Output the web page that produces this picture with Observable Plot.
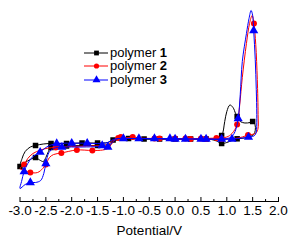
<!DOCTYPE html>
<html><head><meta charset="utf-8">
<script src="https://cdn.jsdelivr.net/npm/d3@7"></script>
<script src="https://cdn.jsdelivr.net/npm/@observablehq/plot@0.6"></script>
<style>
body{margin:0;background:#fff;}
#chart{position:relative;width:293px;height:240px;font-family:"Liberation Sans",Arial,sans-serif;}
#legend{position:absolute;left:84px;top:45.5px;font-size:13px;line-height:13.5px;color:#000;}
.row{display:flex;align-items:center;height:13.5px;white-space:nowrap}
.row svg{margin-right:2px;display:block}
</style></head><body><div id="chart"></div>
<script>
// Potential (V), current (arbitrary units), marker flag
const series = ["polymer 1", "polymer 2", "polymer 3"];
const seriesNumbers = ["1", "2", "3"];
const xTickLabels = [-3.0, -2.5, -2.0, -1.5, -1.0, -0.5, 0.0, 0.5, 1.0, 1.5, 2.0];
const xMinorTicks = [-2.75, -2.25, -1.75, -1.25, -0.75, -0.25, 0.25, 0.75, 1.25, 1.75];

const polymer1 = [
[0.0,0.5,1],[0.3,0.5,1],[0.6,0.5,1],[0.8,1],[0.9,4,1],[0.96,18],[1.0,28],[1.06,34.5],[1.12,32],[1.17,26],[1.2,23,1],[1.26,18],[1.35,16.5],[1.45,17],[1.5,18,1],[1.545,15],
[1.55,9],[1.52,5],[1.45,3],[1.35,1.5],[1.2,0.7,1],[1.1,-1],[1.0,-3],[0.9,-4,1],[0.8,-1.5],[0.7,0],[0.5,0.3],[0.3,0.3],[0.0,0.3],[-0.3,0.5],[-0.6,0.5],[-0.9,0.8],[-1.05,0.5],[-1.15,-1],[-1.2,-2.5],[-1.25,-4.5],[-1.35,-5.5],[-1.5,-6,1],[-1.8,-6],[-2.1,-6.5,1],[-2.3,-7],[-2.4,-8,1],[-2.45,-12],[-2.5,-18],[-2.55,-22],[-2.62,-20.5],[-2.7,-18,1],[-2.8,-20],[-2.9,-23],[-3.0,-27,1],
[-2.96,-19],[-2.9,-12],[-2.8,-7.5],[-2.7,-6,1],[-2.55,-4.5],[-2.4,-4,1],[-2.1,-4,1],[-1.8,-3.5,1],[-1.5,-3.5,1],[-1.3,-3],[-1.2,-0.5,1],[-1.1,0.8],[-0.9,1,1],[-0.6,0.5,1],[-0.3,0.5,1],[0.0,0.5]
];
const polymer2 = [
[0.0,1,1],[0.2,1,1],[0.5,1,1],[0.8,1.5,1],[1.0,2.5],[1.1,6],[1.2,15,1],[1.25,35],[1.3,62],[1.38,96],[1.44,116],[1.49,124],[1.525,116,1],[1.56,95],[1.59,60],[1.605,25],[1.6,10],
[1.55,6],[1.41,4.5,1],[1.3,2.5],[1.15,1],[0.9,0.5,1],[0.6,0.5,1],[0.3,0.5,1],[0.0,0.5],[-0.4,1,1],[-0.7,1.5],[-0.82,2.5,1],[-0.95,1.5],[-1.05,2.5,1],[-1.15,0],[-1.22,-4],[-1.3,-9],[-1.4,-10.5],[-1.6,-11,1],[-1.9,-10.5,1],[-2.2,-13.5,1],[-2.35,-15],[-2.43,-18],[-2.5,-25,1],[-2.56,-29],[-2.66,-33],[-2.8,-33,1],[-2.9,-31],[-3.0,-29],
[-2.92,-25,1],[-2.85,-19],[-2.75,-14],[-2.6,-10.5],[-2.45,-8.5],[-2.31,-8,1],[-2.0,-7],[-1.7,-6.5],[-1.4,-6],[-1.3,-5],[-1.2,-1],[-1.1,1.5,1],[-0.9,1.5],[-0.6,1],[-0.3,1,1],[0.0,1]
];
const polymer3 = [
[0.0,0.5,1],[0.3,0.5],[0.6,0.5,1],[0.9,0.5,1],[1.0,1],[1.09,2.5],[1.16,8],[1.22,21,1],[1.26,45],[1.3,78],[1.38,106],[1.43,121],[1.47,129],[1.5,124],[1.52,109,1],[1.55,80],[1.57,50],[1.58,25],[1.575,10],[1.555,5],
[1.5,3],[1.42,2.3,1],[1.3,1.5],[1.1,0.5,1],[0.9,0],[0.5,0.5,1],[0.2,0.5,1],[-0.1,1,1],[-0.4,1,1],[-0.7,1,1],[-1.0,1,1],[-1.1,1],[-1.2,-2],[-1.3,-7.5,1],[-1.41,-6,1],[-1.5,-7],[-1.8,-7.5],[-2.19,-7.7,1],[-2.35,-9],[-2.44,-13],[-2.5,-24,1],[-2.54,-34],[-2.6,-41],[-2.7,-43],[-2.8,-43,1],[-2.9,-45],[-3.0,-49],
[-2.97,-42],[-2.92,-32,1],[-2.85,-24],[-2.75,-17],[-2.61,-12.7,1],[-2.5,-8],[-2.4,-5.5],[-2.29,-4,1],[-2.0,-3.7,1],[-1.7,-3.7,1],[-1.5,-4],[-1.3,-3],[-1.2,0],[-1.1,1],[-0.8,1],[-0.4,0.5],[0.0,0.5]
];

const data = [polymer1, polymer2, polymer3];
const colors = ["#000000", "#ff0000", "#0000ff"];
const symbols = ["square", "circle", "triangle"];
const radii = [3.1, 3, 3.4];

const W = 293, H = 240, mTop = 0, mBottom = 39;
const plotH = H - mTop - mBottom;
const X = d => d[0], Y = d => d[1];

const marks = [];
data.forEach((s, i) => {
  marks.push(Plot.line(s, {x: X, y: Y, stroke: colors[i], strokeWidth: 1, curve: "catmull-rom"}));
  marks.push(Plot.dot(s.filter(d => d[2]), {x: X, y: Y, symbol: symbols[i], fill: colors[i], stroke: "none", r: radii[i]}));
});
marks.push(Plot.frame({anchor: "bottom"}));
marks.push(Plot.tickX(xTickLabels, {x: d => d, insetTop: plotH - 4}));
marks.push(Plot.tickX(xMinorTicks, {x: d => d, insetTop: plotH - 2}));
marks.push(Plot.axisX(xTickLabels, {tickSize: 0, tickPadding: 4, tickFormat: d => d.toFixed(1), fontSize: 13.5,
  label: "Potential/V", labelAnchor: "center", labelArrow: "none", labelOffset: 33}));

const chart = Plot.plot({
  width: W, height: H,
  marginTop: mTop, marginBottom: mBottom, marginLeft: 19.5, marginRight: 15,
  style: {fontFamily: "'Liberation Sans', Arial, sans-serif", background: "#fff", color: "#000"},
  x: {domain: [-3, 2]},
  y: {domain: [-62, 139], axis: null},
  marks
});
const root = document.getElementById("chart");
root.appendChild(chart);

const legend = document.createElement("div");
legend.id = "legend";
const ns = "http://www.w3.org/2000/svg";
series.forEach((name, i) => {
  const row = document.createElement("div");
  row.className = "row";
  const sw = Plot.plot({
    width: 24, height: 9, margin: 0, axis: null,
    x: {domain: [0, 1]}, y: {domain: [0, 1]},
    marks: [
      Plot.ruleY([0.5], {stroke: colors[i], strokeWidth: 1}),
      Plot.dot([[0.5, 0.5]], {x: X, y: Y, symbol: symbols[i], fill: colors[i], r: radii[i] - 0.4})
    ]
  });
  sw.style.marginRight = "2px";
  row.appendChild(sw);
  const t = document.createElement("span");
  t.textContent = name.replace(/\s*\d+$/, " ");
  t.style.whiteSpace = "pre";
  const b = document.createElement("b");
  b.textContent = seriesNumbers[i];
  row.appendChild(t);
  row.appendChild(b);
  legend.appendChild(row);
});
root.appendChild(legend);
</script></body></html>
